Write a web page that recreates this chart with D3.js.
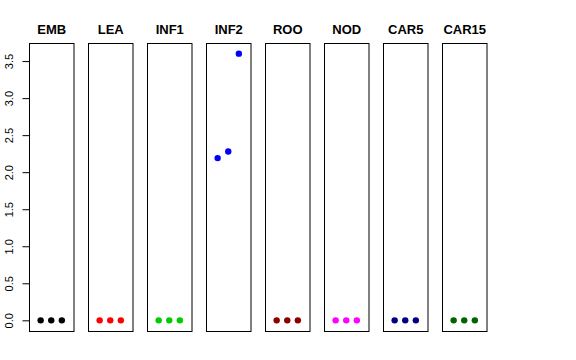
<!DOCTYPE html>
<html>
<head>
<meta charset="utf-8">
<script src="https://cdn.jsdelivr.net/npm/d3@7"></script>
<style>
  body { margin: 0; background: #fff; }
  text { font-family: "Liberation Sans", Arial, sans-serif; }
</style>
</head>
<body>
<div id="chart"></div>
<script>
// panel names and colours
var groups = ["EMB", "LEA", "INF1", "INF2", "ROO", "NOD", "CAR5", "CAR15"];
var colors = ["#000000", "#ff0000", "#00cd00", "#0000ff", "#8b0000", "#ff00ff", "#000080", "#006400"];

// three values per panel
var values = [
  [0, 0, 0],
  [0, 0, 0],
  [0, 0, 0],
  [2.19, 2.28, 3.60],
  [0, 0, 0],
  [0, 0, 0],
  [0, 0, 0],
  [0, 0, 0]
];

var yTicks = [0, 0.5, 1, 1.5, 2, 2.5, 3, 3.5];

var width = 576, height = 360;
var panelLeft = 29, panelWidth = 44.5, panelStep = 59;
var plotTop = 43, plotBottom = 331;

var svg = d3.select("#chart").append("svg")
    .attr("width", width)
    .attr("height", height);

// shared y scale, R style 4% padding
var yMax = 3.6;
var pad = yMax * 0.04;
var y = d3.scaleLinear()
    .domain([-pad, yMax + pad])
    .range([plotBottom, plotTop]);

groups.forEach(function(name, i) {
    var x0 = panelLeft + i * panelStep;
    var x = d3.scaleLinear()
        .domain([-0.1, 4.1])
        .range([x0, x0 + panelWidth]);

    var g = svg.append("g");

    g.selectAll("circle")
        .data(values[i])
        .enter()
        .append("circle")
        .attr("cx", function(d, j) { return x(j + 1); })
        .attr("cy", function(d) { return y(d); })
        .attr("r", 3.2)
        .attr("fill", colors[i]);

    g.append("rect")
        .attr("x", x0 + 0.5)
        .attr("y", plotTop + 0.5)
        .attr("width", panelWidth)
        .attr("height", plotBottom - plotTop)
        .attr("fill", "none")
        .attr("stroke", "#000")
        .attr("stroke-width", 1);

    g.append("text")
        .attr("x", x0 + panelWidth / 2 + 0.5)
        .attr("y", 34)
        .attr("text-anchor", "middle")
        .attr("font-size", "13px")
        .attr("font-weight", "bold")
        .text(name);

    if (i == 0) {
        var axis = d3.axisLeft(y)
            .tickValues(yTicks)
            .tickSize(7)
            .tickFormat(d3.format(".1f"));
        var ag = svg.append("g")
            .attr("transform", "translate(" + (x0 + 0.5) + ",0)")
            .call(axis);
        ag.select(".domain")
            .attr("d", "M0," + y(0) + "V" + y(3.5));
        ag.selectAll(".tick text")
            .attr("font-family", "Liberation Sans, Arial, sans-serif")
            .attr("font-size", "11px")
            .attr("fill", "#000")
            .attr("x", null)
            .attr("y", null)
            .attr("dy", null)
            .attr("text-anchor", "middle")
            .attr("transform", "translate(-17,0) rotate(-90)");
    }
});
</script>
</body>
</html>
